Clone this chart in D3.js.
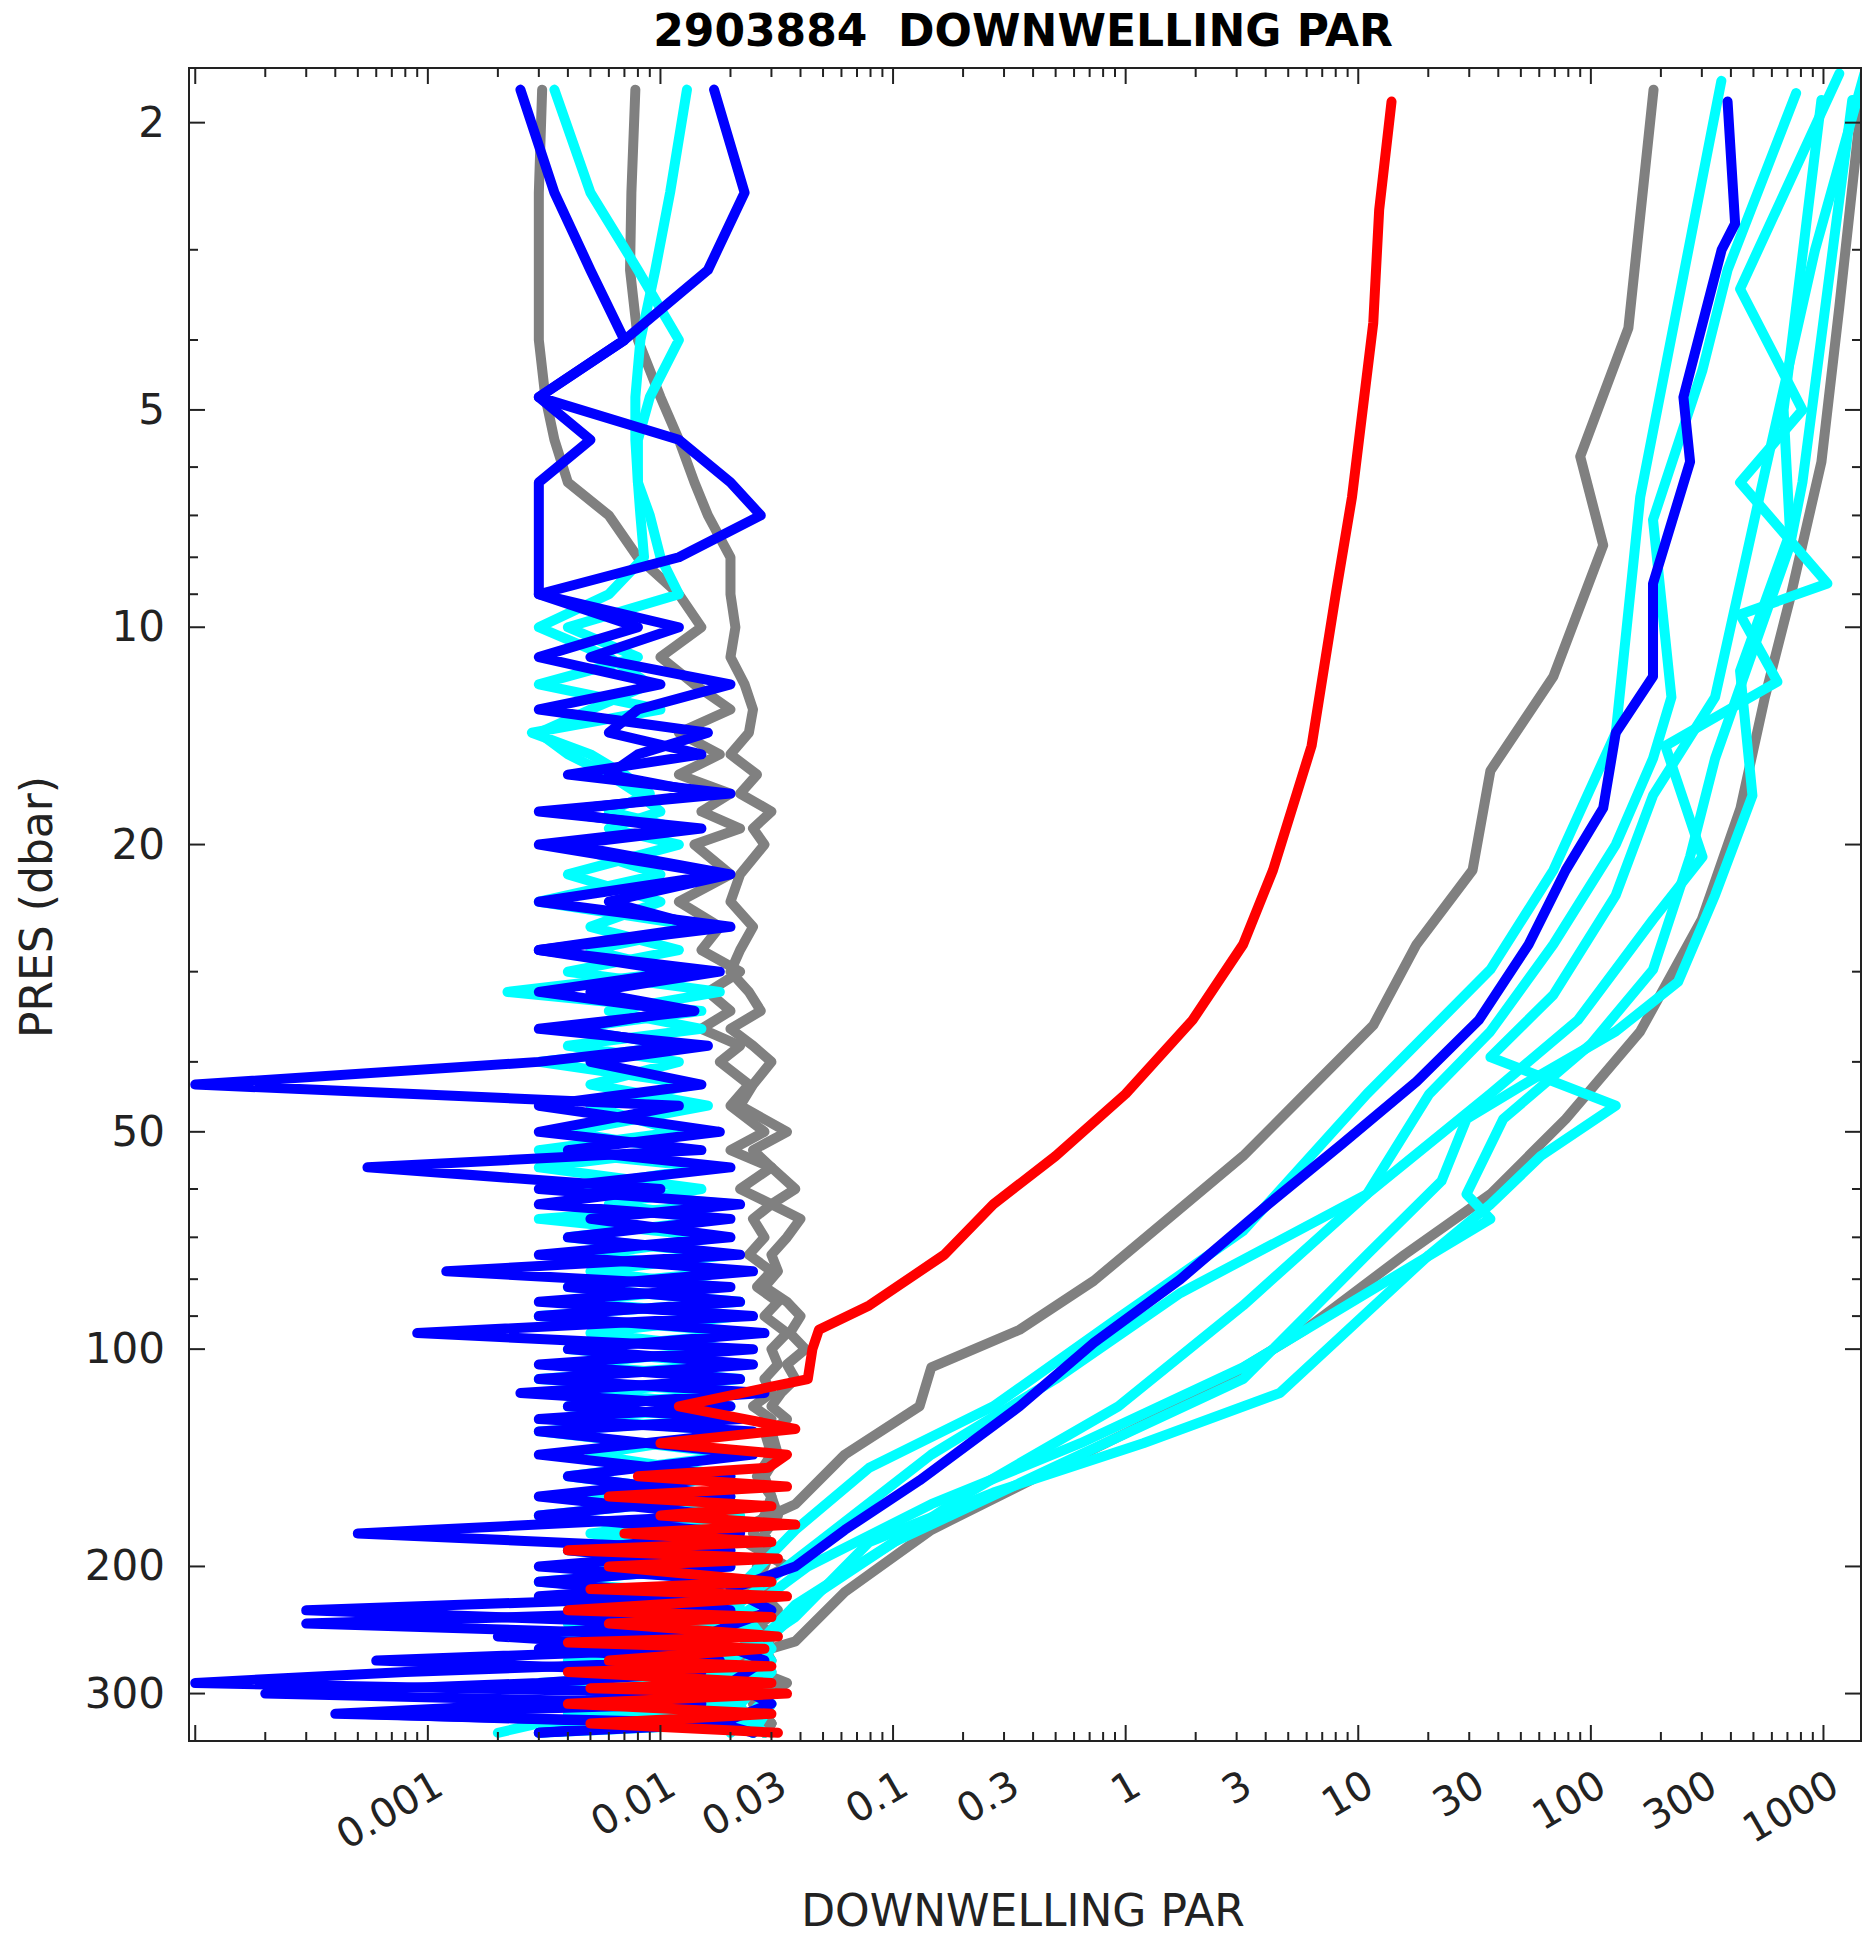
<!DOCTYPE html>
<html>
<head>
<meta charset="utf-8">
<script src="https://cdn.jsdelivr.net/npm/d3@7"></script>
<style>
body { margin: 0; background: #fff; }
text { font-family: "DejaVu Sans", sans-serif; fill: #222; }
</style>
</head>
<body>
<svg id="canvas" width="1865" height="1943"></svg>
<script>
// shared pressure grid for the noisy (dark) profiles
let noiseP = [1.8,2.5,3.2,4,4.8,5.5,6.3,7,8,9,10,11,12,13,14,15,16,17,18,19,20,22,24,26,28,30,32,34,36,38,40,43,46,50,53,56,60,63,66,70,74,78,82,86,90,95,100,105,110,115,120,125,130,140,150,160,170,180,190,200,210,220,230,240,250,260,270,280,290,300,310,320,330,340]

let grayNoiseA = [0.0078,0.0075,0.0074,0.008,0.01,0.012,0.014,0.016,0.02,0.02,0.021,0.02,0.023,0.025,0.024,0.02,0.026,0.022,0.03,0.025,0.028,0.022,0.02,0.025,0.022,0.02,0.024,0.027,0.02,0.025,0.03,0.025,0.022,0.035,0.025,0.03,0.038,0.03,0.04,0.035,0.03,0.032,0.028,0.035,0.04,0.036,0.042,0.035,0.038,0.033,0.03,0.035,0.03,0.032,0.028,0.03,0.032,0.028,0.03,0.026,0.03,0.028,0.032,0.027,0.03,0.028,0.03,0.026,0.028,0.03,0.027,0.029,0.028,0.03]
let grayNoiseB = [0.0031,0.003,0.003,0.003,0.0032,0.0035,0.004,0.006,0.008,0.012,0.015,0.01,0.014,0.02,0.012,0.018,0.012,0.02,0.015,0.022,0.014,0.02,0.012,0.018,0.015,0.022,0.016,0.02,0.015,0.022,0.018,0.024,0.02,0.028,0.02,0.03,0.022,0.03,0.025,0.028,0.024,0.03,0.026,0.032,0.028,0.035,0.03,0.032,0.028,0.03,0.025,0.03,0.028,0.03,0.026,0.03,0.028,0.025,0.03,0.028,0.025,0.03,0.028,0.026,0.03,0.028,0.025,0.03,0.028,0.026,0.03,0.028,0.03,0.028]
let cyanNoiseA = [0.0035,0.005,0.008,0.012,0.009,0.008,0.008,0.009,0.01,0.012,0.004,0.008,0.003,0.01,0.0028,0.005,0.007,0.009,0.006,0.012,0.004,0.01,0.003,0.015,0.005,0.012,0.0022,0.015,0.004,0.012,0.003,0.014,0.005,0.012,0.003,0.016,0.004,0.02,0.003,0.018,0.005,0.02,0.004,0.022,0.003,0.025,0.004,0.02,0.003,0.022,0.004,0.02,0.003,0.022,0.004,0.02,0.003,0.018,0.004,0.02,0.003,0.022,0.004,0.02,0.003,0.022,0.004,0.02,0.003,0.022,0.004,0.02,0.003,0.002]
let cyanNoiseB = [0.013,0.011,0.0095,0.0082,0.0078,0.0078,0.008,0.0082,0.0085,0.006,0.003,0.006,0.009,0.005,0.003,0.004,0.006,0.008,0.01,0.006,0.012,0.004,0.01,0.005,0.012,0.004,0.018,0.006,0.015,0.004,0.012,0.005,0.016,0.004,0.012,0.003,0.015,0.006,0.018,0.004,0.02,0.005,0.018,0.004,0.022,0.005,0.02,0.004,0.022,0.005,0.02,0.004,0.022,0.005,0.02,0.004,0.022,0.005,0.02,0.004,0.022,0.005,0.02,0.004,0.022,0.005,0.02,0.004,0.022,0.005,0.02,0.004,0.022,0.003]
let blueNoiseA = [0.0025,0.0035,0.005,0.007,0.003,0.005,0.003,0.003,0.003,0.003,0.008,0.003,0.01,0.003,0.016,0.008,0.006,0.016,0.0035,0.012,0.003,0.018,0.003,0.02,0.003,0.012,0.003,0.012,0.004,0.012,0.003,0.0001,0.012,0.003,0.015,0.00055,0.01,0.003,0.02,0.004,0.022,0.0012,0.02,0.003,0.025,0.0009,0.025,0.003,0.022,0.0025,0.02,0.003,0.025,0.003,0.02,0.003,0.018,0.0005,0.02,0.003,0.025,0.003,0.02,0.0003,0.02,0.003,0.018,0.0008,0.0001,0.018,0.003,0.0004,0.02,0.003]
let blueNoiseB = [0.017,0.023,0.016,0.007,0.003,0.012,0.02,0.027,0.012,0.003,0.012,0.005,0.02,0.008,0.006,0.015,0.004,0.02,0.003,0.015,0.004,0.02,0.006,0.015,0.003,0.018,0.005,0.014,0.003,0.016,0.005,0.015,0.003,0.018,0.004,0.02,0.003,0.022,0.005,0.02,0.003,0.025,0.004,0.022,0.003,0.028,0.004,0.025,0.003,0.028,0.004,0.022,0.003,0.025,0.004,0.02,0.003,0.022,0.004,0.02,0.003,0.015,0.0003,0.012,0.002,0.014,0.0006,0.015,0.003,0.0002,0.015,0.0005,0.012,0.003]

// daylight profiles: pressure / value pairs
let redP = [1.87,2.64,3.79,6.6,9.0,14.6,21.7,27.5,35,44.3,54,63,74,87,94,100,110,120,129,135,140,146,150,155,160,165,170,175,180,185,190,195,200,210,215,220,230,235,240,250,255,260,270,275,280,290,295,300,310,320,330,340]
let redV = [13.9,12.3,11.6,9.4,8.0,6.3,4.3,3.2,1.94,1.0,0.5,0.27,0.166,0.079,0.048,0.045,0.043,0.012,0.038,0.01,0.035,0.029,0.008,0.035,0.006,0.03,0.01,0.038,0.007,0.03,0.004,0.032,0.006,0.03,0.005,0.035,0.004,0.03,0.006,0.032,0.004,0.028,0.006,0.03,0.004,0.03,0.005,0.035,0.004,0.03,0.005,0.032]

let grayDay1P = [1.8,3.85,5.8,7.7,11.7,15.8,21.7,27.5,35.6,44.3,54,66,80.4,94,106,120,140,164,180,200,230,250,270,290,310,330,340]
let grayDay1V = [186,145,90,113,69,37,31,17.8,11.6,5.9,3.2,1.52,0.73,0.35,0.146,0.13,0.062,0.038,0.02,0.035,0.015,0.03,0.02,0.03,0.018,0.03,0.025]
let grayDay2P = [1.9,3.6,5.9,9.1,12.5,17.8,25.4,36.3,48,61,74,94,120,146,178,217,254,270,290,310,330,340]
let grayDay2V = [1450,1170,980,720,560,440,300,163,78,37,15.8,5.9,1.72,0.5,0.146,0.062,0.038,0.02,0.035,0.025,0.03,0.028]

let blueDayP = [1.87,2.76,3.0,4.8,5.9,8.7,11.7,14.0,17.8,21.7,27.5,35,42.6,52,63,80,98,120,152,178,200,215,230,250,270,290,310,330,340]
let blueDayV = [387,417,365,250,267,185,185,128,113,78,54,33,17.8,8.5,4.1,1.72,0.73,0.35,0.13,0.062,0.038,0.02,0.03,0.015,0.028,0.02,0.03,0.018,0.025]

let cyanDay1P = [1.75,6.6,14.0,21.7,29.8,44.3,68.6,90.5,120,146,178,220,260,300,340]
let cyanDay1V = [364,163,128,69,37,10.9,3.2,0.93,0.27,0.079,0.038,0.02,0.03,0.02,0.025]
let cyanDay2P = [1.82,3.2,4.4,7.1,12.5,15.2,20,27.5,36.3,44.3,61,83.6,110,140,185,230,270,310,340]
let cyanDay2V = [763,387,302,185,222,185,128,69,37,20.2,10.9,1.72,0.5,0.146,0.048,0.02,0.03,0.02,0.028]
let cyanDay3P = [1.71,3.4,5.0,6.3,8.7,9.6,11.9,14.6,20.8,25.4,35,44.3,61,87,120,158,217,250,290,340]
let cyanDay3V = [1170,438,812,438,1040,438,634,209,302,185,88,37,10.9,3.2,0.93,0.212,0.048,0.03,0.02,0.025]
let cyanDay4P = [1.86,5.0,7.4,11.5,17.1,23.5,31,36.3,42.6,48,58.5,74,110,140,185,226,260,300,340]
let cyanDay4V = [980,674,718,438,495,342,237,128,54,29.2,22.8,10.9,3.2,0.64,0.101,0.038,0.025,0.03,0.02]
let cyanDay5P = [1.71,3.0,6.1,12.5,17.1,23.5,32.3,39.4,46,54,63,74,115,135,158,185,235,270,310,340]
let cyanDay5V = [1500,920,560,342,185,128,69,37,128,61,37,20.2,4.6,1.19,0.27,0.079,0.038,0.02,0.03,0.025]
let cyanDay6P = [1.86,6.3,7.7,15.2,20.8,29.8,37.8,48,61,66,83.6,106,135,164,200,240,280,320,340]
let cyanDay6V = [1330,812,718,342,267,185,100,42,29.2,37,10.9,3.2,0.64,0.146,0.043,0.02,0.03,0.02,0.025]

let xTicks = [0.001,0.01,0.03,0.1,0.3,1,3,10,30,100,300,1000]
let yTicks = [2,5,10,20,50,100,200,300]

let canvas = d3.select("#canvas")
let margin = {left: 189, right: 1861, top: 68, bottom: 1741}

let x = d3.scaleLog().domain([9.4e-5, 1450]).range([margin.left, margin.right])
let y = d3.scaleLog().domain([1.68, 349]).range([margin.top, margin.bottom])

canvas.append("clipPath").attr("id", "clip")
  .append("rect")
  .attr("x", margin.left).attr("y", margin.top)
  .attr("width", margin.right - margin.left).attr("height", margin.bottom - margin.top)

let line = d3.line().x(d => x(d[1])).y(d => y(d[0]))
let zip = (p, v) => p.map((pp, i) => [pp, v[i]])

let profiles = [
  {c: "#808080", d: zip(noiseP, grayNoiseA)},
  {c: "#808080", d: zip(noiseP, grayNoiseB)},
  {c: "#808080", d: zip(grayDay1P, grayDay1V)},
  {c: "#808080", d: zip(grayDay2P, grayDay2V)},
  {c: "#00ffff", d: zip(noiseP, cyanNoiseA)},
  {c: "#00ffff", d: zip(noiseP, cyanNoiseB)},
  {c: "#00ffff", d: zip(cyanDay1P, cyanDay1V)},
  {c: "#00ffff", d: zip(cyanDay2P, cyanDay2V)},
  {c: "#00ffff", d: zip(cyanDay3P, cyanDay3V)},
  {c: "#00ffff", d: zip(cyanDay4P, cyanDay4V)},
  {c: "#00ffff", d: zip(cyanDay5P, cyanDay5V)},
  {c: "#00ffff", d: zip(cyanDay6P, cyanDay6V)},
  {c: "#0000ff", d: zip(noiseP, blueNoiseA)},
  {c: "#0000ff", d: zip(noiseP, blueNoiseB)},
  {c: "#0000ff", d: zip(blueDayP, blueDayV)},
  {c: "#ff0000", d: zip(redP, redV)}
]

canvas.append("g").attr("clip-path", "url(#clip)")
  .selectAll("path")
  .data(profiles)
  .enter()
  .append("path")
  .attr("d", p => line(p.d))
  .attr("fill", "none")
  .attr("stroke", p => p.c)
  .attr("stroke-width", 10)
  .attr("stroke-linejoin", "round")
  .attr("stroke-linecap", "round")

// frame with inward ticks on all four sides
let frame = canvas.append("g").attr("stroke", "#222").attr("stroke-width", 2)
frame.append("rect")
  .attr("x", margin.left).attr("y", margin.top)
  .attr("width", margin.right - margin.left).attr("height", margin.bottom - margin.top)
  .attr("fill", "none")

let minorX = []
for (let e = -4; e <= 3; e++) for (let m = 1; m <= 9; m++) {
  let v = m * Math.pow(10, e)
  if (v >= 9.4e-5 && v <= 1450) minorX.push(v)
}
let minorY = []
for (let e = 0; e <= 2; e++) for (let m = 1; m <= 9; m++) {
  let v = m * Math.pow(10, e)
  if (v >= 1.68 && v <= 349) minorY.push(v)
}
let isMajor = v => Math.abs(Math.log10(v) - Math.round(Math.log10(v))) < 1e-6

minorX.forEach(v => {
  let len = isMajor(v) ? 16 : 9
  frame.append("line").attr("x1", x(v)).attr("x2", x(v)).attr("y1", margin.bottom).attr("y2", margin.bottom - len)
  frame.append("line").attr("x1", x(v)).attr("x2", x(v)).attr("y1", margin.top).attr("y2", margin.top + len)
})
minorY.forEach(v => {
  let len = yTicks.includes(v) ? 16 : 9
  frame.append("line").attr("y1", y(v)).attr("y2", y(v)).attr("x1", margin.left).attr("x2", margin.left + len)
  frame.append("line").attr("y1", y(v)).attr("y2", y(v)).attr("x1", margin.right).attr("x2", margin.right - len)
})

canvas.selectAll(".xlab")
  .data(xTicks)
  .enter()
  .append("text")
  .attr("class", "xlab")
  .attr("transform", d => `translate(${x(d) + 18},${margin.bottom + 52}) rotate(-30)`)
  .attr("text-anchor", "end")
  .attr("font-size", 40)
  .text(d => d)

canvas.selectAll(".ylab")
  .data(yTicks)
  .enter()
  .append("text")
  .attr("class", "ylab")
  .attr("x", margin.left - 24)
  .attr("y", d => y(d) + 14)
  .attr("text-anchor", "end")
  .attr("font-size", 42)
  .text(d => d)

canvas.append("text")
  .attr("x", 1023).attr("y", 46)
  .attr("text-anchor", "middle")
  .attr("font-size", 44).attr("font-weight", "bold")
  .style("fill", "#000")
  .style("white-space", "pre")
  .text("2903884  DOWNWELLING PAR")

canvas.append("text")
  .attr("x", 1023).attr("y", 1926)
  .attr("text-anchor", "middle")
  .attr("font-size", 44)
  .text("DOWNWELLING PAR")

canvas.append("text")
  .attr("transform", "translate(52,907) rotate(-90)")
  .attr("text-anchor", "middle")
  .attr("font-size", 44)
  .text("PRES (dbar)")
</script>
</body>
</html>
